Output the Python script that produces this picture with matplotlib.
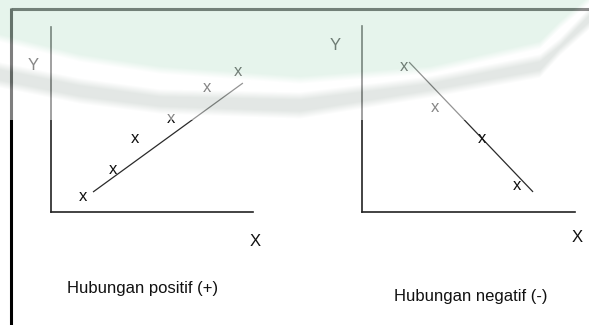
import numpy as np
import matplotlib
matplotlib.use("Agg")
import matplotlib.pyplot as plt

plt.rcParams["font.family"] = ["Liberation Sans", "DejaVu Sans"]

W, H = 589, 325

# positive relation: scatter points and trend line (axis units 0..10)
pos_x = [1.58, 3.07, 4.16, 5.94, 7.72, 9.26]
pos_y = [0.81, 2.27, 3.95, 5.03, 6.70, 7.57]
pos_line_x = [2.08, 9.50]
pos_line_y = [1.08, 6.97]

# negative relation
neg_x = [1.97, 3.43, 5.63, 7.28]
neg_y = [7.80, 5.59, 3.92, 1.40]
neg_line_x = [2.21, 8.03]
neg_line_y = [8.06, 1.08]

titles = ["Hubungan positif (+)", "Hubungan negatif (-)"]

# watermark band outlines (pixels, from the scan)
wm_x = [0, 80, 160, 300, 430, 540, 560, 589]
wm_green = [38, 58, 70, 80, 70, 45, 25, 0]
wm_gray_top = [66, 82, 93, 96, 80, 58, 42, 12]
wm_gray_bot = [84, 100, 110, 115, 94, 74, 52, 26]


def px_axes(fig, x0, x1, y_top, y_bot, **kw):
    return fig.add_axes([x0 / W, 1 - y_bot / H, (x1 - x0) / W, (y_bot - y_top) / H], **kw)


def draw_panel(ax, xs, ys, lx, ly):
    ax.set_xlim(0, 10)
    ax.set_ylim(0, 10)
    ax.set_xticks([])
    ax.set_yticks([])
    ax.patch.set_alpha(0)
    for s in ["top", "right"]:
        ax.spines[s].set_visible(False)
    for s in ["left", "bottom"]:
        ax.spines[s].set_color("#222222")
        ax.spines[s].set_linewidth(1.2)
    ax.plot(lx, ly, color="#2a2a2a", linewidth=0.9, solid_capstyle="butt")
    for x, y in zip(xs, ys):
        ax.annotate("x", (x, y), xytext=(0, -3.1), textcoords="offset points",
                    ha="center", va="baseline", fontsize=12, color="#111111",
                    annotation_clip=False)


def soft(d, width=4.0):
    # 0..1 ramp across an edge, for the blurry scan look
    return np.clip(d / width + 0.5, 0, 1)


fig = plt.figure(figsize=(W / 100, H / 100), dpi=100)
fig.patch.set_facecolor("white")

# page frame
bg = fig.add_axes([0, 0, 1, 1], zorder=0)
bg.set_xlim(0, W)
bg.set_ylim(H, 0)
bg.axis("off")
bg.plot([11, W], [9, 9], color="#1a1a1a", linewidth=2.2, solid_capstyle="butt")
bg.plot([11, 11], [8, H], color="#000000", linewidth=2.2, solid_capstyle="butt")

ax1 = px_axes(fig, 51, 253, 27, 212, zorder=2)
draw_panel(ax1, pos_x, pos_y, pos_line_x, pos_line_y)
ax2 = px_axes(fig, 362, 575, 26, 212, zorder=2)
draw_panel(ax2, neg_x, neg_y, neg_line_x, neg_line_y)

# axis letters and captions
txt = dict(fontsize=12, color="#111111", ha="center", va="center")
fig.text(33 / W, 1 - 66 / H, "Y", **txt)
fig.text(255 / W, 1 - 242 / H, "X", **txt)
fig.text(335 / W, 1 - 45 / H, "Y", **txt)
fig.text(577 / W, 1 - 238 / H, "X", **txt)
fig.text(143 / W, 1 - 288 / H, titles[0], **txt)
fig.text(471 / W, 1 - 296 / H, titles[1], **txt)

# faint watermark laid over the top of the scan
xs = np.arange(W) + 0.5
yy = np.arange(H)[:, None] + 0.5
g_bot = np.interp(xs, wm_x, wm_green)[None, :]
k_top = np.interp(xs, wm_x, wm_gray_top)[None, :]
k_bot = np.interp(xs, wm_x, wm_gray_bot)[None, :]
w_green = soft(g_bot - yy, 8.0)
w_gray = np.minimum(soft(yy - k_top, 8.0), soft(k_bot - yy, 8.0))
green = np.array([205, 233, 217]) / 255
gray = np.array([199, 208, 203]) / 255
white = np.ones(3)
rgb = (white[None, None, :]
       + w_green[..., None] * (green - white)
       + w_gray[..., None] * (gray - white))
rgba = np.ones((H, W, 4))
rgba[..., :3] = rgb
rgba[..., 3] = np.where(np.broadcast_to(yy < 120, (H, W)), 0.5, 0.0)

ov = fig.add_axes([0, 0, 1, 1], zorder=10)
ov.imshow(rgba, extent=(0, W, H, 0), interpolation="bilinear")
ov.set_xlim(0, W)
ov.set_ylim(H, 0)
ov.axis("off")

fig.savefig("out.png", dpi=100)
